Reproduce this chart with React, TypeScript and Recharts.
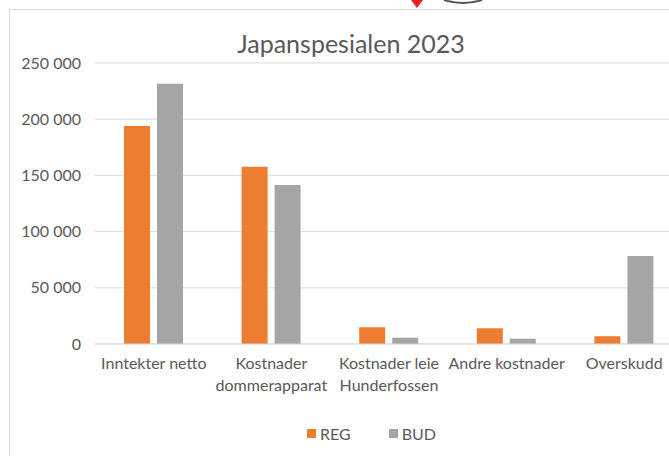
import { BarChart, Bar, XAxis, YAxis, CartesianGrid } from 'recharts';

// Kategorier og verdier lest av figuren
const categories = [
  'Inntekter netto',
  'Kostnader dommerapparat',
  'Kostnader leie Hunderfossen',
  'Andre kostnader',
  'Overskudd',
];
const tickLines = [
  ['Inntekter netto'],
  ['Kostnader', 'dommerapparat'],
  ['Kostnader leie', 'Hunderfossen'],
  ['Andre kostnader'],
  ['Overskudd'],
];
const regValues = [194000, 157700, 14900, 14000, 6900];
const budValues = [231500, 141500, 5600, 4700, 78300];
const yTicks = [0, 50000, 100000, 150000, 200000, 250000];

const seriesInfo = [
  { key: 'REG', color: '#ED7D31' },
  { key: 'BUD', color: '#A5A5A5' },
];

const data = categories.map((name, i) => ({
  name,
  REG: regValues[i],
  BUD: budValues[i],
}));

const FONT = 'Lato, "Open Sans", sans-serif';
const TEXT = '#595959';

const fmt = (v: number) => v.toLocaleString('en-US').replace(/,/g, ' ');

function CategoryTick(props: any) {
  const { x, y, index } = props;
  const lines = tickLines[index] || [];
  return (
    <text x={x} y={y} textAnchor="middle" fill={TEXT} fontSize={16} fontFamily={FONT}>
      {lines.map((l, i) => (
        <tspan key={i} x={x} dy={i === 0 ? 17 : 22}>
          {l}
        </tspan>
      ))}
    </text>
  );
}

export default function App() {
  return (
    <div
      style={{
        position: 'absolute',
        left: 0,
        top: 0,
        width: 669,
        height: 456,
        overflow: 'hidden',
        background: '#fff',
      }}
    >
      {/* rest av logo over diagrammet */}
      <svg width={669} height={10} style={{ position: 'absolute', left: 0, top: 0 }}>
        <polygon points="411,0 423,0 417,8" fill="#e8202a" />
        <path d="M444,0 Q463,6 482,0" stroke="#555" strokeWidth={2} fill="none" />
      </svg>
      <div
        style={{
          position: 'absolute',
          left: 9,
          top: 9,
          width: 720,
          height: 500,
          border: '1px solid #d9d9d9',
          boxSizing: 'border-box',
        }}
      />
      <div
        style={{
          position: 'absolute',
          left: 0,
          width: 702,
          top: 28,
          textAlign: 'center',
          fontFamily: FONT,
          fontSize: 25,
          lineHeight: '30px',
          color: TEXT,
        }}
      >
        Japanspesialen 2023
      </div>
      <div style={{ position: 'absolute', left: 0, top: 0 }}>
        <BarChart
          width={700}
          height={456}
          data={data}
          margin={{ top: 63, right: 17, left: 1, bottom: 52 }}
          barSize={26}
          barGap={7}
        >
          <CartesianGrid vertical={false} stroke="#d9d9d9" />
          <XAxis
            dataKey="name"
            axisLine={{ stroke: '#d9d9d9' }}
            tickLine={false}
            tick={<CategoryTick />}
            interval={0}
            height={60}
          />
          <YAxis
            width={94}
            domain={[0, 250000]}
            ticks={yTicks}
            axisLine={false}
            tickLine={false}
            tickSize={0}
            tickMargin={14}
            tickFormatter={fmt}
            tick={{ fill: TEXT, fontSize: 16, fontFamily: FONT }}
          />
          {seriesInfo.map((s) => (
            <Bar key={s.key} dataKey={s.key} fill={s.color} isAnimationActive={false} />
          ))}
        </BarChart>
      </div>
      <div
        style={{
          position: 'absolute',
          left: 307,
          top: 424,
          display: 'flex',
          gap: 38,
          fontFamily: FONT,
          fontSize: 16,
          color: TEXT,
        }}
      >
        {seriesInfo.map((s) => (
          <div key={s.key} style={{ display: 'flex', alignItems: 'center', gap: 4 }}>
            <span style={{ width: 9, height: 9, background: s.color, display: 'inline-block' }} />
            <span>{s.key}</span>
          </div>
        ))}
      </div>
    </div>
  );
}
